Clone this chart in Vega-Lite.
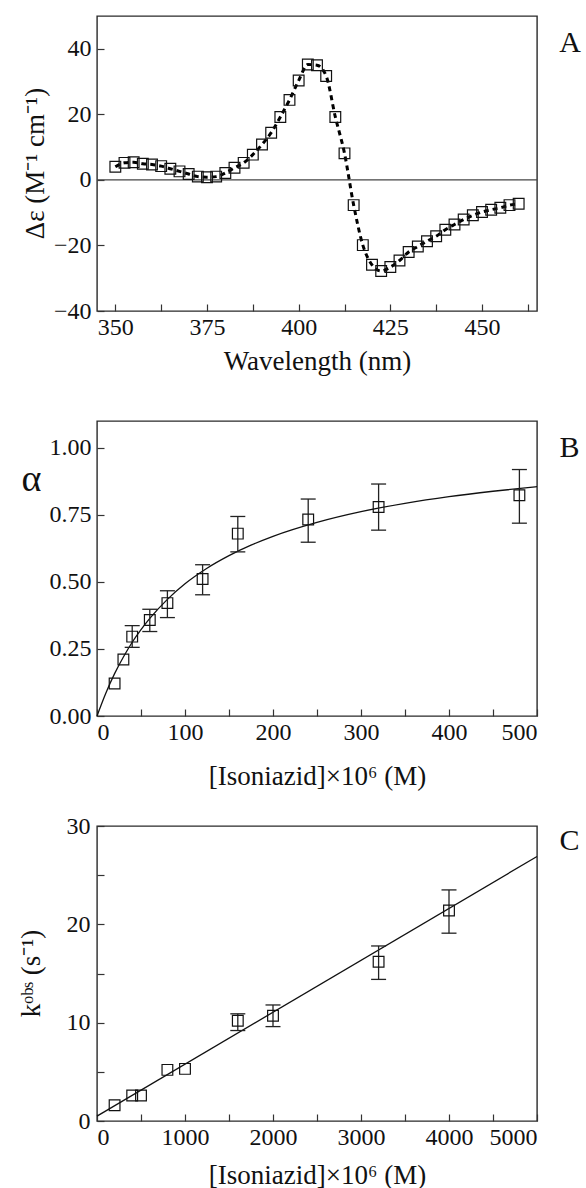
{
  "$schema": "https://vega.github.io/schema/vega-lite/v6.json",
  "background": "white",
  "padding": {"left": 16, "top": 15, "right": 0, "bottom": 0},
  "spacing": 110,
  "bounds": "flush",
  "datasets": {
    "cd": [
      {"wavelength": 350, "de": 4.0}, {"wavelength": 352.5, "de": 5.2}, {"wavelength": 355, "de": 5.4},
      {"wavelength": 357.5, "de": 4.9}, {"wavelength": 360, "de": 4.7}, {"wavelength": 362.5, "de": 4.2},
      {"wavelength": 365, "de": 3.4}, {"wavelength": 367.5, "de": 2.6}, {"wavelength": 370, "de": 1.8},
      {"wavelength": 372.5, "de": 1.0}, {"wavelength": 375, "de": 0.8}, {"wavelength": 377.5, "de": 1.0},
      {"wavelength": 380, "de": 2.1}, {"wavelength": 382.5, "de": 3.7}, {"wavelength": 385, "de": 5.2},
      {"wavelength": 387.5, "de": 7.7}, {"wavelength": 390, "de": 10.8}, {"wavelength": 392.5, "de": 14.4},
      {"wavelength": 395, "de": 19.2}, {"wavelength": 397.5, "de": 24.4}, {"wavelength": 400, "de": 30.3},
      {"wavelength": 402.5, "de": 35.2}, {"wavelength": 405, "de": 35.0}, {"wavelength": 407.5, "de": 31.7},
      {"wavelength": 410, "de": 19.2}, {"wavelength": 412.5, "de": 8.1}, {"wavelength": 415, "de": -7.7},
      {"wavelength": 417.5, "de": -19.9}, {"wavelength": 420, "de": -25.9}, {"wavelength": 422.5, "de": -27.8},
      {"wavelength": 425, "de": -26.6}, {"wavelength": 427.5, "de": -24.6}, {"wavelength": 430, "de": -22.0},
      {"wavelength": 432.5, "de": -20.3}, {"wavelength": 435, "de": -18.7}, {"wavelength": 437.5, "de": -17.2},
      {"wavelength": 440, "de": -15.2}, {"wavelength": 442.5, "de": -13.6}, {"wavelength": 445, "de": -12.1},
      {"wavelength": 447.5, "de": -10.8}, {"wavelength": 450, "de": -9.8}, {"wavelength": 452.5, "de": -9.1},
      {"wavelength": 455, "de": -8.5}, {"wavelength": 457.5, "de": -7.7}, {"wavelength": 460, "de": -7.3}
    ],
    "alpha": [
      {"conc": 20, "alpha": 0.121}, {"conc": 30, "alpha": 0.211},
      {"conc": 40, "alpha": 0.296, "lo": 0.256, "hi": 0.337},
      {"conc": 60, "alpha": 0.358, "lo": 0.315, "hi": 0.398},
      {"conc": 80, "alpha": 0.421, "lo": 0.367, "hi": 0.467},
      {"conc": 120, "alpha": 0.511, "lo": 0.452, "hi": 0.564},
      {"conc": 160, "alpha": 0.68, "lo": 0.612, "hi": 0.744},
      {"conc": 240, "alpha": 0.733, "lo": 0.648, "hi": 0.809},
      {"conc": 320, "alpha": 0.779, "lo": 0.693, "hi": 0.865},
      {"conc": 480, "alpha": 0.823, "lo": 0.719, "hi": 0.919}
    ],
    "alphaFit": [
      {"conc": 0, "alpha": 0}, {"conc": 10, "alpha": 0.085}, {"conc": 20, "alpha": 0.158},
      {"conc": 30, "alpha": 0.22}, {"conc": 40, "alpha": 0.275}, {"conc": 50, "alpha": 0.322},
      {"conc": 60, "alpha": 0.364}, {"conc": 80, "alpha": 0.435}, {"conc": 100, "alpha": 0.493},
      {"conc": 125, "alpha": 0.551}, {"conc": 150, "alpha": 0.598}, {"conc": 175, "alpha": 0.637},
      {"conc": 200, "alpha": 0.67}, {"conc": 250, "alpha": 0.722}, {"conc": 300, "alpha": 0.762},
      {"conc": 350, "alpha": 0.793}, {"conc": 400, "alpha": 0.818}, {"conc": 450, "alpha": 0.838},
      {"conc": 500, "alpha": 0.855}
    ],
    "kobs": [
      {"conc": 200, "k": 1.6}, {"conc": 400, "k": 2.6}, {"conc": 500, "k": 2.6},
      {"conc": 800, "k": 5.2}, {"conc": 1000, "k": 5.3},
      {"conc": 1600, "k": 10.2, "lo": 9.2, "hi": 10.9},
      {"conc": 2000, "k": 10.7, "lo": 9.6, "hi": 11.8},
      {"conc": 3200, "k": 16.2, "lo": 14.4, "hi": 17.8},
      {"conc": 4000, "k": 21.4, "lo": 19.1, "hi": 23.5}
    ],
    "kobsFit": [
      {"conc": 0, "k": 0.5}, {"conc": 5000, "k": 26.9}
    ]
  },
  "config": {
    "font": "Liberation Serif",
    "view": {"stroke": "#2a2a2a", "strokeWidth": 1.4},
    "style": {"guide-label": {"font": "Liberation Serif"}, "guide-title": {"font": "Liberation Serif"}},
    "axis": {
      "labelFont": "Liberation Serif", "titleFont": "Liberation Serif",
      "labelFontSize": 24, "titleFontSize": 27, "titleFontWeight": "normal",
      "labelColor": "#111", "titleColor": "#111", "tickColor": "#333",
      "domain": false, "grid": false, "tickSize": -7, "tickWidth": 1.2
    },
    "axisX": {"labelPadding": 11, "labelFont": "Liberation Serif"},
    "axisY": {"labelPadding": 13, "labelFont": "Liberation Serif"},
    "title": {"font": "Liberation Serif", "fontSize": 30, "fontWeight": "normal", "color": "#111"}
  },
  "vconcat": [
    {
      "width": 440, "height": 295,
      "title": {"text": "A", "orient": "right", "anchor": "start", "angle": 0, "align": "left", "baseline": "middle", "offset": 0, "dy": 27},
      "layer": [
        {
          "data": {"values": [{}]},
          "mark": {"type": "rule", "color": "#444", "strokeWidth": 1.2},
          "encoding": {"y": {"datum": 0, "type": "quantitative"}}
        },
        {
          "data": {"name": "cd"},
          "mark": {"type": "line", "color": "black", "strokeWidth": 3, "strokeDash": [5, 4], "interpolate": "monotone"},
          "encoding": {
            "x": {"field": "wavelength", "type": "quantitative",
              "scale": {"domain": [345, 465], "nice": false, "zero": false},
              "axis": {"title": "Wavelength (nm)", "values": [350, 362.5, 375, 387.5, 400, 412.5, 425, 437.5, 450, 462.5],
                "labelExpr": "datum.value % 25 == 0 ? datum.label : ''", "titleY": 58, "titleBaseline": "alphabetic"}},
            "y": {"field": "de", "type": "quantitative",
              "scale": {"domain": [-40, 50], "nice": false, "zero": false},
              "axis": {"title": "Δε (M⁻¹ cm⁻¹)", "values": [-40, -30, -20, -10, 0, 10, 20, 30, 40],
                "labelExpr": "datum.value % 20 == 0 ? datum.label : ''",
                "titleX": -62, "titleY": 147, "titleAlign": "center", "titleBaseline": "middle", "titleAngle": -90}}
          }
        },
        {
          "data": {"name": "cd"},
          "mark": {"type": "point", "shape": "square", "size": 115, "filled": false, "stroke": "#111", "strokeWidth": 1.2, "opacity": 1},
          "encoding": {
            "x": {"field": "wavelength", "type": "quantitative"},
            "y": {"field": "de", "type": "quantitative"}
          }
        }
      ]
    },
    {
      "width": 440, "height": 295,
      "title": {"text": "B", "orient": "right", "anchor": "start", "angle": 0, "align": "left", "baseline": "middle", "offset": 0, "dy": 27},
      "layer": [
        {
          "data": {"name": "alphaFit"},
          "mark": {"type": "line", "color": "#111", "strokeWidth": 1.3, "interpolate": "monotone"},
          "encoding": {
            "x": {"field": "conc", "type": "quantitative",
              "scale": {"domain": [0, 500], "nice": false},
              "axis": {"title": "[Isoniazid]×10⁶ (M)", "values": [0, 50, 100, 150, 200, 250, 300, 350, 400, 450, 500],
                "labelExpr": "datum.value % 100 == 0 ? datum.label : ''", "titleY": 68, "titleBaseline": "alphabetic"}},
            "y": {"field": "alpha", "type": "quantitative",
              "scale": {"domain": [0, 1.1], "nice": false},
              "axis": {"title": "α", "values": [0, 0.125, 0.25, 0.375, 0.5, 0.625, 0.75, 0.875, 1],
                "labelExpr": "datum.value % 0.25 == 0 ? format(datum.value, '.2f') : ''",
                "titleX": -66, "titleY": 58, "titleAlign": "center", "titleBaseline": "middle", "titleAngle": 0, "titleFontSize": 38}}
          }
        },
        {
          "data": {"name": "alpha"},
          "mark": {"type": "rule", "color": "#222", "strokeWidth": 1.3},
          "encoding": {
            "x": {"field": "conc", "type": "quantitative"},
            "y": {"field": "lo", "type": "quantitative"},
            "y2": {"field": "hi"}
          }
        },
        {
          "data": {"name": "alpha"},
          "mark": {"type": "tick", "orient": "horizontal", "size": 15, "thickness": 1.3, "color": "#222", "opacity": 1},
          "encoding": {
            "x": {"field": "conc", "type": "quantitative"},
            "y": {"field": "lo", "type": "quantitative"}
          }
        },
        {
          "data": {"name": "alpha"},
          "mark": {"type": "tick", "orient": "horizontal", "size": 15, "thickness": 1.3, "color": "#222", "opacity": 1},
          "encoding": {
            "x": {"field": "conc", "type": "quantitative"},
            "y": {"field": "hi", "type": "quantitative"}
          }
        },
        {
          "data": {"name": "alpha"},
          "mark": {"type": "point", "shape": "square", "size": 115, "filled": false, "stroke": "#111", "strokeWidth": 1.2, "opacity": 1},
          "encoding": {
            "x": {"field": "conc", "type": "quantitative"},
            "y": {"field": "alpha", "type": "quantitative"}
          }
        }
      ]
    },
    {
      "width": 440, "height": 295,
      "title": {"text": "C", "orient": "right", "anchor": "start", "angle": 0, "align": "left", "baseline": "middle", "offset": 0, "dy": 27},
      "layer": [
        {
          "data": {"name": "kobsFit"},
          "mark": {"type": "line", "color": "#111", "strokeWidth": 1.3},
          "encoding": {
            "x": {"field": "conc", "type": "quantitative",
              "scale": {"domain": [0, 5000], "nice": false},
              "axis": {"title": "[Isoniazid]×10⁶ (M)", "values": [0, 500, 1000, 1500, 2000, 2500, 3000, 3500, 4000, 4500, 5000],
                "labelExpr": "datum.value % 1000 == 0 ? format(datum.value, 'd') : ''", "titleY": 62, "titleBaseline": "alphabetic"}},
            "y": {"field": "k", "type": "quantitative",
              "scale": {"domain": [0, 30], "nice": false},
              "axis": {"title": "kᵒᵇˢ (s⁻¹)", "values": [0, 5, 10, 15, 20, 25, 30],
                "labelExpr": "datum.value % 10 == 0 ? datum.label : ''", "labelPadding": 14,
                "titleX": -66, "titleY": 147, "titleAlign": "center", "titleBaseline": "middle", "titleAngle": -90}}
          }
        },
        {
          "data": {"name": "kobs"},
          "mark": {"type": "rule", "color": "#222", "strokeWidth": 1.3},
          "encoding": {
            "x": {"field": "conc", "type": "quantitative"},
            "y": {"field": "lo", "type": "quantitative"},
            "y2": {"field": "hi"}
          }
        },
        {
          "data": {"name": "kobs"},
          "mark": {"type": "tick", "orient": "horizontal", "size": 15, "thickness": 1.3, "color": "#222", "opacity": 1},
          "encoding": {
            "x": {"field": "conc", "type": "quantitative"},
            "y": {"field": "lo", "type": "quantitative"}
          }
        },
        {
          "data": {"name": "kobs"},
          "mark": {"type": "tick", "orient": "horizontal", "size": 15, "thickness": 1.3, "color": "#222", "opacity": 1},
          "encoding": {
            "x": {"field": "conc", "type": "quantitative"},
            "y": {"field": "hi", "type": "quantitative"}
          }
        },
        {
          "data": {"name": "kobs"},
          "mark": {"type": "point", "shape": "square", "size": 115, "filled": false, "stroke": "#111", "strokeWidth": 1.2, "opacity": 1},
          "encoding": {
            "x": {"field": "conc", "type": "quantitative"},
            "y": {"field": "k", "type": "quantitative"}
          }
        }
      ]
    }
  ]
}
